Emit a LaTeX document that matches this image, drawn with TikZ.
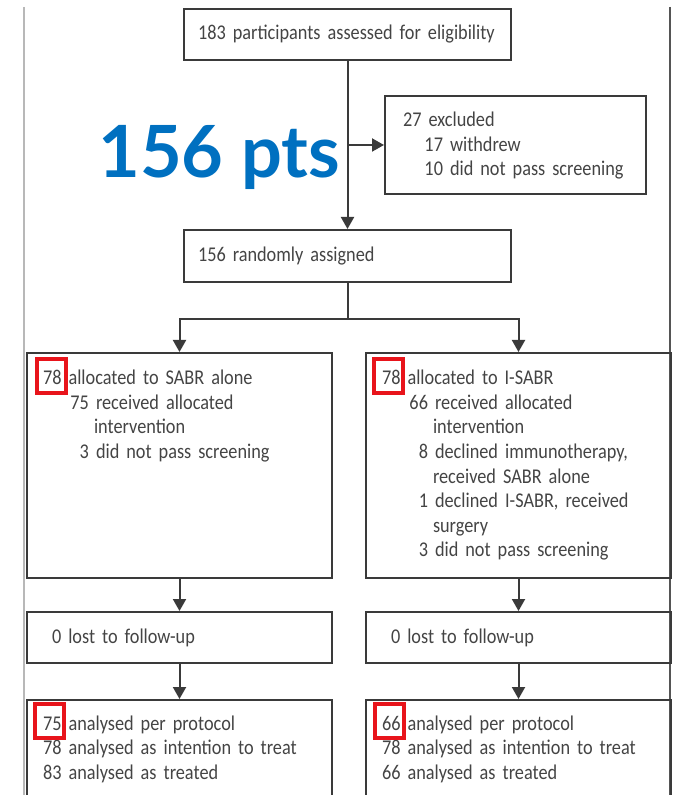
\documentclass[tikz,border=0pt]{standalone}
\usepackage{fontspec}
\setmainfont{Carlito}[FakeStretch=0.87]
\newfontfamily\ptsfont{Lato}
\usetikzlibrary{arrows.meta,positioning}
\definecolor{boxline}{HTML}{3A3A3A}
\definecolor{boxtext}{HTML}{444444}
\definecolor{ptsblue}{HTML}{0070C0}
\definecolor{markred}{HTML}{E8141B}
\definecolor{pageline}{HTML}{B8B8B8}
\definecolor{pageedge}{HTML}{555555}
% box text: small condensed, tight word spaces
\DeclareRobustCommand{\boxfont}{\fontsize{10.5}{12.25}\selectfont
  \spaceskip=0.17em plus 0.05em minus 0.03em\relax}
\tikzset{
    flowbox/.style={
    rectangle,draw=boxline,line width=1pt,text=boxtext,align=left,
    anchor=north west,inner xsep=8pt,inner ysep=8pt,
    font=\boxfont
    },
    tall/.style={
    text height=8pt,text depth=#1
    },
    hilite/.style={
    rectangle,draw=markred,line width=2pt,inner sep=0pt,
    minimum width=14.5pt,minimum height=17pt
    },
    ptslabel/.style={
    anchor=base west,inner sep=0pt,text=ptsblue,
    font=\ptsfont\bfseries\fontsize{36}{40}\selectfont
    },
    flow/.style={
    draw=boxline,line width=1pt,-{Triangle[width=6.5pt,length=6pt]}
    },
    link/.style={
    draw=boxline,line width=1pt
    },
}
% number column inside the boxes
\newcommand{\numline}[3][23pt]{\makebox[#1][r]{#2}\ #3}
\newcommand{\contline}[1]{\hspace*{25.5pt}#1}

\begin{document}
\begin{tikzpicture}[x=0.5pt, y=-0.5pt]
   \clip (0,0) rectangle (674,795);
   \draw[pageline,line width=1pt] (23.5,7) -- (23.5,795);
   \draw[pageedge,line width=1pt] (669.5,7) -- (669.5,795);

   \node[flowbox,text width=149.5pt,inner xsep=7pt,minimum height=25.5pt] (assessed) at (183,8)
     {183 participants assessed for eligibility};
   \node[flowbox,tall=25.5pt,text height=7.5pt,text width=112.5pt,inner xsep=9pt] (excluded) at (384,95)
     {27 excluded\\
      \numline[20pt]{17}{withdrew}\\
      \numline[20pt]{10}{did not pass screening}};
   \node[flowbox,text width=149.5pt,inner xsep=7pt,minimum height=26pt] (randomised) at (183,229)
     {156 randomly assigned};
   \node[ptslabel] (pts) at (98,178) {156 pts};

   % two arms
   \node[flowbox,tall=88.5pt,text width=136.5pt] (allocL) at (26,352)
     {78 allocated to SABR alone\\
      \numline{75}{received allocated}\\
      \contline{intervention}\\
      \numline{3}{did not pass screening}};
   \node[flowbox,tall=88.5pt,text width=136.5pt,right=16pt of allocL] (allocR)
     {78 allocated to I-SABR\\
      \numline{66}{received allocated}\\
      \contline{intervention}\\
      \numline{8}{declined immunotherapy,}\\
      \contline{received SABR alone}\\
      \numline{1}{declined I-SABR, received}\\
      \contline{surgery}\\
      \numline{3}{did not pass screening}};
   \node[flowbox,text width=127.5pt,inner xsep=12.5pt,minimum height=25.5pt] (lostL) at (26,611)
     {0 lost to follow-up};
   \node[flowbox,text width=127.5pt,inner xsep=12.5pt,minimum height=25.5pt,right=16pt of lostL] (lostR)
     {0 lost to follow-up};
   \node[flowbox,tall=32.5pt,text height=7pt,text width=136.5pt] (resultL) at (26,699)
     {75 analysed per protocol\\
      78 analysed as intention to treat\\
      83 analysed as treated};
   \node[flowbox,tall=32.5pt,text height=7pt,text width=136.5pt,right=16pt of resultL] (resultR)
     {66 analysed per protocol\\
      78 analysed as intention to treat\\
      66 analysed as treated};

   % red marks
   \node[hilite] (markA) at (51,376.5) {};
   \node[hilite] (markB) at (388,376.5) {};
   \node[hilite] (markC) at (49,720.5) {};
   \node[hilite] (markD) at (389.5,721) {};

   \coordinate (branch) at (assessed.south |- excluded.west);
   \draw[flow] (assessed) -- (randomised);
   \draw[flow] (branch) -- (excluded.west);
   \draw[link] (randomised.south) -- ++(0,36) coordinate (split);
   \draw[flow] (split) -| (allocL.north);
   \draw[flow] (split) -| (allocR.north);
   \draw[flow] (allocL) -- (lostL);
   \draw[flow] (allocR) -- (lostR);
   \draw[flow] (lostL) -- (resultL);
   \draw[flow] (lostR) -- (resultR);
\end{tikzpicture}
\end{document}
